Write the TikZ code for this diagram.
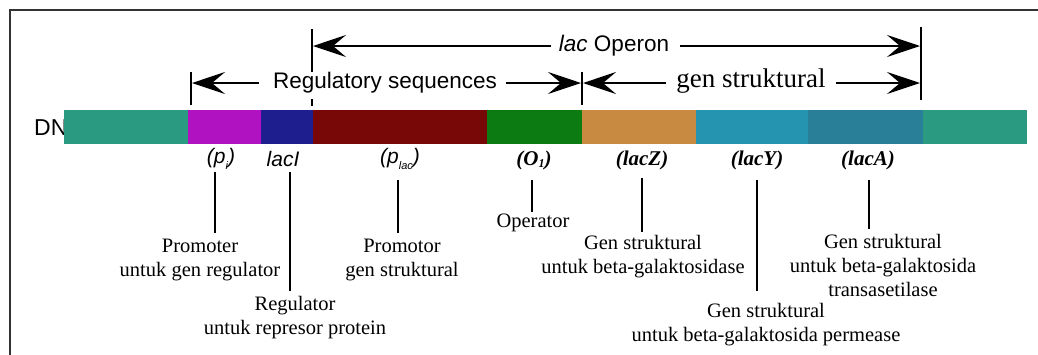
\documentclass[tikz,border=0pt]{standalone}
\usepackage{fontspec}
\setmainfont{Liberation Serif}
\newfontfamily\sansf{Liberation Sans}
\usetikzlibrary{arrows.meta}
\definecolor{dnateal}{HTML}{2A9A80}
\definecolor{dnamag}{HTML}{B012C2}
\definecolor{dnanavy}{HTML}{1E1E8E}
\definecolor{dnared}{HTML}{780808}
\definecolor{dnagreen}{HTML}{0C7C12}
\definecolor{dnaorange}{HTML}{C88A40}
\definecolor{dnacyan}{HTML}{2494B0}
\definecolor{dnablue}{HTML}{2A7F98}
\begin{document}
\begin{tikzpicture}[x=1pt,y=-1pt,
  desc/.style={font=\fontsize{20.5}{24}\selectfont, align=center, inner sep=0pt},
  sanslab/.style={font=\sansf\fontsize{22.5}{26}\selectfont, inner sep=0pt},
  genlab/.style={font=\bfseries\itshape\fontsize{21}{24}\selectfont, inner sep=0pt},
  itlab/.style={font=\sansf\itshape\fontsize{21}{24}\selectfont, inner sep=0pt},
  conn/.style={line width=2.8pt},
  ticker/.style={line width=2.5pt},
  arr/.style={line width=2.2pt, -{Stealth[length=33pt,width=22pt,inset=13pt]}}]
\useasboundingbox (0,0) rectangle (1038,354);
\fill[white] (0,0) rectangle (1038,354);
% frame
\draw[line width=2pt, black!80] (10,356) -- (10,10) -- (1040,10);
% DNA label (partly hidden by the bar)
\node[sanslab, font=\sansf\fontsize{23}{26}\selectfont, anchor=west] (dna) at (34,128) {DNA};
% DNA bar
\fill[dnateal]   (64,110)  rectangle (188,144);
\fill[dnamag]    (188,110) rectangle (261,144);
\fill[dnanavy]   (261,110) rectangle (313,144);
\fill[dnared]    (313,110) rectangle (487,144);
\fill[dnagreen]  (487,110) rectangle (582,144);
\fill[dnaorange] (582,110) rectangle (696,144);
\fill[dnacyan]   (696,110) rectangle (808,144);
\fill[dnablue]   (808,110) rectangle (923,144);
\fill[dnateal]   (923,110) rectangle (1027,144);
% ticks
\draw[ticker] (312,29) -- (312,72);
\draw[ticker] (312,99) -- (312,106);
\draw[ticker] (191,72) -- (191,105);
\draw[ticker] (582,72) -- (582,105);
\draw[ticker] (921,27) -- (921,100);
% lac Operon
\node[sanslab] (op) at (614,46) {\textit{lac} Operon};
\coordinate (opL) at (313,46);
\coordinate (opR) at (920,46);
\draw[arr] ([xshift=-8pt]op.west) -- (opL);
\draw[arr] ([xshift=11pt]op.east) -- (opR);
% Regulatory sequences
\node[sanslab] (reg) at (385,83) {Regulatory sequences};
\coordinate (regL) at (192,83);
\coordinate (regR) at (581,83);
\draw[arr] ([xshift=-14pt]reg.west) -- (regL);
\draw[arr] ([xshift=9pt]reg.east) -- (regR);
% gen struktural
\node[inner sep=0pt, font=\fontsize{27}{30}\selectfont] (gs) at (751,81) {gen struktural};
\coordinate (gsL) at (583,83);
\coordinate (gsR) at (920,83);
\draw[arr] ([xshift=-10pt]gs.west |- gsL) -- (gsL);
\draw[arr] ([xshift=10pt]gs.east |- gsR) -- (gsR);
% labels below bar
\node[itlab] (pi) at (221,159) {(p\raisebox{-0.5ex}{\fontsize{11}{11}\selectfont i})};
\node[itlab] (laci) at (283,159) {lacI};
\node[itlab] (plac) at (400,159) {(p\raisebox{-0.5ex}{\fontsize{11}{11}\selectfont lac})};
\node[genlab] (o1) at (534,160) {(O\raisebox{-0.3ex}{\fontsize{12}{12}\selectfont 1})};
\node[genlab] (lacz) at (642,160) {(lacZ)};
\node[genlab] (lacy) at (757,160) {(lacY)};
\node[genlab] (laca) at (868,160) {(lacA)};
% descriptions
\node[desc] (d1) at (200,260) {Promoter\\untuk gen regulator};
\node[desc] (d2) at (295,318) {Regulator\\untuk represor protein};
\node[desc] (d3) at (402,260) {Promotor\\gen struktural};
\node[desc] (d4) at (533,223) {Operator};
\node[desc] (d5) at (643,257) {Gen struktural\\untuk beta-galaktosidase};
\node[desc] (d6) at (766,325) {Gen struktural\\untuk beta-galaktosida permease};
\node[desc] (d7) at (883,265) {Gen struktural\\untuk beta-galaktosida\\transasetilase};
% connectors
\coordinate (c1a) at (215,172); \coordinate (c1b) at (215,233);
\coordinate (c2a) at (290,172); \coordinate (c2b) at (290,291);
\coordinate (c3a) at (398,180); \coordinate (c3b) at (398,233);
\coordinate (c4a) at (532,180); \coordinate (c4b) at (532,212);
\coordinate (c5a) at (642,178); \coordinate (c5b) at (642,232);
\coordinate (c6a) at (757,180); \coordinate (c6b) at (757,291);
\coordinate (c7a) at (869,180); \coordinate (c7b) at (869,229);
\draw[conn] (c1a) -- (c1b);
\draw[conn] (c2a) -- (c2b);
\draw[conn] (c3a) -- (c3b);
\draw[conn] (c4a) -- (c4b);
\draw[conn] (c5a) -- (c5b);
\draw[conn] (c6a) -- (c6b);
\draw[conn] (c7a) -- (c7b);
\end{tikzpicture}
\end{document}
